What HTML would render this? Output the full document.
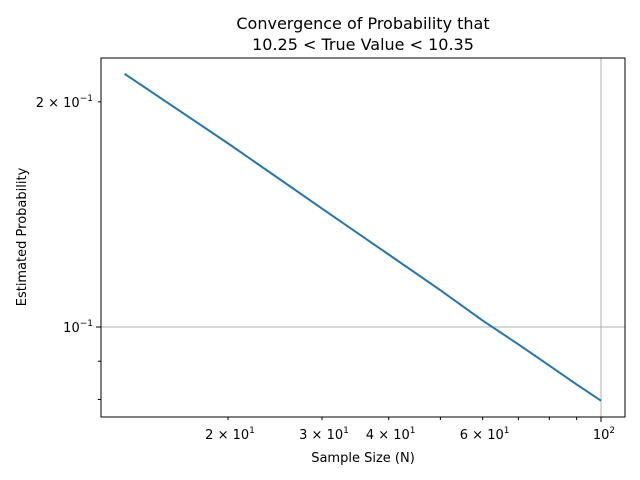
<!DOCTYPE html>
<html><head><meta charset="utf-8"><style>
body{margin:0;background:#fff}
svg{display:block;font-family:"DejaVu Sans","Liberation Sans",sans-serif}
</style></head><body>
<svg id="chart" width="640" height="480" viewBox="0 0 640 480" xmlns="http://www.w3.org/2000/svg">
<rect width="640" height="480" fill="#fff"/>
<g id="grid"></g>
<g id="series"></g>
<g id="axes"></g>
<text x="363" y="29" text-anchor="middle" font-size="16">Convergence of Probability that</text>
<text x="363" y="50" text-anchor="middle" font-size="16">10.25 &lt; True Value &lt; 10.35</text>
<text x="363" y="462" text-anchor="middle" font-size="13">Sample Size (N)</text>
<text transform="translate(26,237) rotate(-90)" text-anchor="middle" font-size="13">Estimated Probability</text>
</svg>
<script>
const sampleSizes=[12.8,20,30,40,50,60,70,80,90,100];
const probabilities=[0.218,0.176,0.144,0.125,0.112,0.102,0.0948,0.0888,0.0838,0.0797];
const xMajorTicks=[100];
const xMinorTicks=[20,30,40,50,60,70,80,90];
const xTickLabels={20:"2",30:"3",40:"4",60:"6"};
const yMajorTicks=[0.1];
const yMinorTicks=[0.08,0.09,0.2];
const xDomain=[11.56,110.9], yDomain=[0.0758,0.2289];
const L=101,R=625,T=58,B=417;
const NS="http://www.w3.org/2000/svg";
function xs(v){return L+(Math.log10(v)-Math.log10(xDomain[0]))/(Math.log10(xDomain[1])-Math.log10(xDomain[0]))*(R-L);}
function ys(v){return B-(Math.log10(v)-Math.log10(yDomain[0]))/(Math.log10(yDomain[1])-Math.log10(yDomain[0]))*(B-T);}
function mk(tag,attrs,parent){const e=document.createElementNS(NS,tag);for(const k in attrs)e.setAttribute(k,attrs[k]);document.getElementById(parent).appendChild(e);return e;}
xMajorTicks.forEach(v=>{const l=mk('line',{x1:xs(v),x2:xs(v),y1:T,y2:B,stroke:'#b0b0b0','stroke-width':1},'grid');

});
yMajorTicks.forEach(v=>{const l=mk('line',{x1:L,x2:R,y1:ys(v),y2:ys(v),stroke:'#b0b0b0','stroke-width':1},'grid');

});
const pts=sampleSizes.map((n,i)=>xs(n).toFixed(2)+','+ys(probabilities[i]).toFixed(2)).join(' ');
const pl=mk('polyline',{points:pts,fill:'none',stroke:'#1f77b4','stroke-width':2},'series');


const fr=mk('rect',{x:L,y:T,width:R-L,height:B-T,fill:'none',stroke:'#000','stroke-width':1},'axes');


function sup(parent,x,y,base,exp,anchor){const t=mk('text',{x:x,y:y,'font-size':13,'text-anchor':anchor},parent);


t.innerHTML=base+'<tspan dy="-6" font-size="9">'+exp+'</tspan>';return t;}
xMajorTicks.forEach(v=>{mk('line',{x1:xs(v),x2:xs(v),y1:B,y2:B+5,stroke:'#000'},'axes');sup('axes',xs(v)+3,B+22,'10','2','middle');});
xMinorTicks.forEach(v=>{mk('line',{x1:xs(v),x2:xs(v),y1:B,y2:B+3,stroke:'#000'},'axes');
if(xTickLabels[v])sup('axes',xs(v)+2,B+22,xTickLabels[v]+' \u00d7 10','1','middle');});
yMajorTicks.forEach(v=>{mk('line',{x1:L-5,x2:L,y1:ys(v),y2:ys(v),stroke:'#000'},'axes');sup('axes',L-8,ys(v)+5,'10','\u22121','end');});
yMinorTicks.forEach(v=>{mk('line',{x1:L-3,x2:L,y1:ys(v),y2:ys(v),stroke:'#000'},'axes');
if(v===0.2)sup('axes',L-8,ys(v)+5,'2 \u00d7 10','\u22121','end');});
</script>
</body></html>
